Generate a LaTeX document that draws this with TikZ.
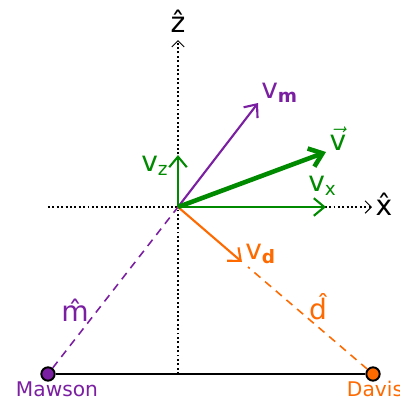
\documentclass[tikz,border=0pt]{standalone}
\usepackage{fontspec}
\setmainfont{DejaVu Sans}
\usepackage{xcolor}
\usepackage{tikz}
\usetikzlibrary{arrows.meta}

\definecolor{mpurple}{RGB}{123,31,162}
\definecolor{vgreen}{RGB}{0,138,0}
\definecolor{dorange}{RGB}{255,106,0}

\newcommand{\velo}[1]{{\fontsize{16}{18}\selectfont v}\raisebox{-2.5pt}{\fontsize{10.5}{12}\selectfont #1}}

\tikzset{
    axis/.style={line width=1.1pt, dash pattern=on 1.1pt off 1.4pt, -{Straight Barb[length=3.5pt,width=7pt,line width=0.6pt]}},
    vec/.style={line width=1.2pt, -{Straight Barb[length=6pt,width=10pt]}},
    guide/.style={line width=0.9pt, dash pattern=on 4.5pt off 3.5pt},
    big/.style={font=\fontsize{16}{18}\selectfont},
    small/.style={font=\fontsize{11.5}{13}\selectfont},
    station/.style={circle, draw=black, line width=1.1pt, minimum size=7.6pt, inner sep=0pt}
}

\begin{document}
\begin{tikzpicture}[x=0.02cm, y=-0.02cm]
        \useasboundingbox (0,0) rectangle (400,400);

        \coordinate (o) at (178,207);
        \coordinate (zb) at (178,374);
        \coordinate (zt) at (178,40);
        \coordinate (xl) at (48,207);
        \coordinate (xr) at (372,207);
        \coordinate (dgap) at (248,267);

        \coordinate (vme) at (258,103);
        \coordinate (ve) at (326,152);
        \coordinate (vxe) at (326,207);
        \coordinate (vze) at (178,155);
        \coordinate (vde) at (242,262);

        \node[station, fill=mpurple] (mw) at (48,374) {};
        \node[station, fill=dorange] (dv) at (373,374) {};

        \node[small, text=mpurple] (mwl) at (57,389) {Mawson};
        \node[small, text=dorange] (dvl) at (375,389) {Davis};

        \node[big] (zl) at (178,21) {\^{z}};
        \node[big] (xlb) at (384,204) {\^{x}};
        \node[big, text=mpurple] (ml) at (75,310) {\^{m}};
        \node[big, text=dorange] (dl) at (318,307) {\^{d}};

        \node[text=mpurple, anchor=west, inner sep=0pt] (vml) at (261,93) {\velo{\bfseries m}};
        \node[text=vgreen, big, inner sep=0pt] (vl) at (338,139) {$\vec{\mbox{v}}$};
        \node[text=vgreen, anchor=west, inner sep=0pt] (vxl) at (308,186) {\velo{x}};
        \node[text=vgreen, anchor=east, inner sep=0pt] (vzl) at (168,166) {\velo{z}};
        \node[text=dorange, anchor=west, inner sep=0pt] (vdl) at (245,254) {\velo{\bfseries d}};

        \draw[axis] (zb) -- (zt);
        \draw[axis] (xl) -- (xr);

        \draw[guide, mpurple] (mw) -- (o);
        \draw[guide, dorange] (dv) -- (dgap);
        \draw[line width=1.4pt] (mw) -- (dv);

        \draw[vec, mpurple] (o) -- (vme);
        \draw[vec, vgreen] (o) -- (vxe);
        \draw[vec, vgreen] (o) -- (vze);
        \draw[vec, dorange] (o) -- (vde);
        \draw[vgreen, line width=2.6pt, -{Straight Barb[length=7pt,width=11pt]}] (o) -- (ve);
    \end{tikzpicture}
\end{document}
